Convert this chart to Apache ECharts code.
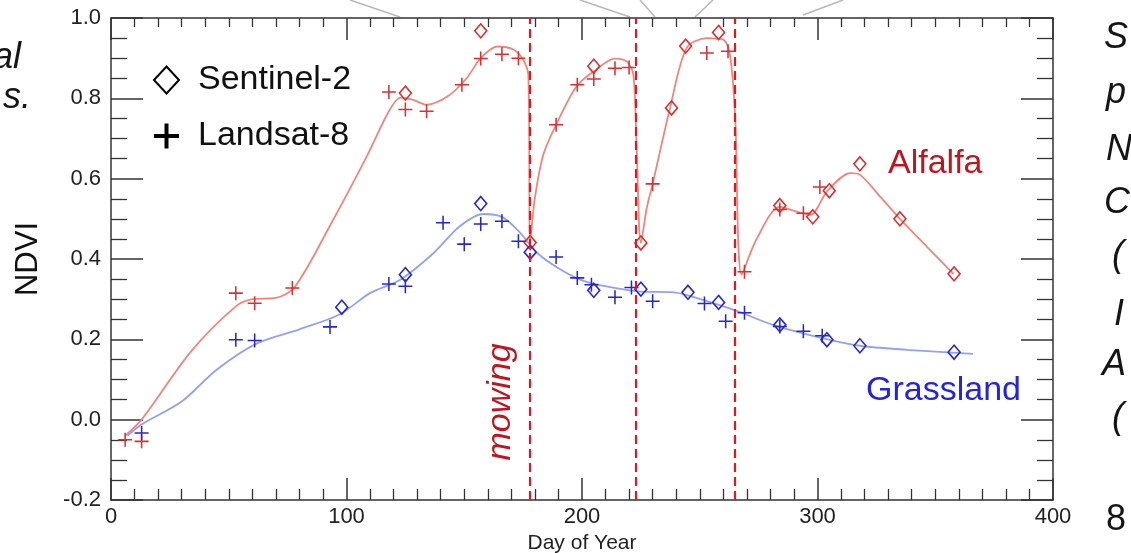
<!DOCTYPE html>
<html>
<head>
<meta charset="utf-8" />
<title>NDVI Alfalfa / Grassland</title>
<script src="https://cdn.jsdelivr.net/npm/echarts@6/dist/echarts.min.js"></script>
</head>
<body style="margin:0">
<div id="main" style="width:1131px;height:553px;"></div>
<script type="text/javascript">
// alfalfa observations
var alfalfaL8Day = [6, 13, 53, 61, 77, 118, 125, 134, 149, 157, 166, 173, 189, 198, 205, 214, 220, 230, 253, 262, 269, 284, 294, 301];
var alfalfaL8 = [-0.05, -0.054, 0.315, 0.29, 0.328, 0.816, 0.772, 0.768, 0.834, 0.899, 0.91, 0.90, 0.734, 0.834, 0.848, 0.875, 0.877, 0.587, 0.913, 0.917, 0.368, 0.523, 0.514, 0.579];
var alfalfaS2Day = [125, 157, 178, 205, 225, 238, 244, 258, 284, 298, 305, 318, 335, 358];
var alfalfaS2 = [0.813, 0.968, 0.441, 0.88, 0.44, 0.776, 0.93, 0.964, 0.533, 0.505, 0.57, 0.637, 0.50, 0.363];
// alfalfa fitted curve
var alfalfaFitDay = [6, 13, 34, 53, 60, 70, 78, 94, 109, 118, 123, 128, 134, 143, 151, 157, 164, 171, 175, 177.2, 178, 180, 183.6, 189, 197.7, 205, 214, 219, 221.8, 223.2, 225, 227.5, 230, 237.4, 244.4, 253, 260, 262.8, 265, 267.8, 274, 284, 290, 297, 304, 314, 318, 326.5, 334.7, 346.4, 357.7];
var alfalfaFit = [-0.04, 0.0, 0.17, 0.282, 0.30, 0.303, 0.33, 0.494, 0.66, 0.768, 0.802, 0.797, 0.784, 0.805, 0.85, 0.90, 0.929, 0.921, 0.896, 0.859, 0.444, 0.552, 0.66, 0.734, 0.83, 0.867, 0.899, 0.892, 0.859, 0.677, 0.44, 0.527, 0.587, 0.776, 0.925, 0.95, 0.946, 0.909, 0.759, 0.361, 0.448, 0.53, 0.52, 0.51, 0.568, 0.614, 0.61, 0.556, 0.502, 0.431, 0.363];

// grassland observations
var grassL8Day = [13, 53, 61, 93, 118, 125, 141, 150, 157, 166, 173, 189, 198, 204, 214, 221, 230, 252, 261, 269, 284, 294, 302];
var grassL8 = [-0.033, 0.199, 0.197, 0.231, 0.338, 0.332, 0.49, 0.437, 0.487, 0.494, 0.444, 0.405, 0.353, 0.336, 0.305, 0.329, 0.295, 0.289, 0.245, 0.266, 0.232, 0.22, 0.209];
var grassS2Day = [98, 125, 157, 178, 205, 225, 245, 258, 284, 304, 318, 358];
var grassS2 = [0.28, 0.361, 0.538, 0.417, 0.322, 0.325, 0.317, 0.292, 0.236, 0.199, 0.184, 0.168];
// grassland fitted curve
var grassFitDay = [7, 13, 30, 45, 62, 80, 97, 110, 123, 137, 148, 158, 166, 173, 181, 190, 200, 212, 225, 239, 253, 266, 281, 302, 318, 338, 366];
var grassFit = [-0.04, -0.012, 0.045, 0.125, 0.19, 0.225, 0.262, 0.315, 0.349, 0.415, 0.481, 0.512, 0.505, 0.47, 0.415, 0.377, 0.347, 0.33, 0.319, 0.317, 0.295, 0.27, 0.236, 0.203, 0.184, 0.174, 0.164];

var mowingDays = [178, 223, 265];
var yTickLabels = ['-0.2', '0.0', '0.2', '0.4', '0.6', '0.8', '1.0'];

function pairs(xs, ys) {
  return xs.map(function (x, i) { return [x, ys[i]]; });
}

var FONT = '"Liberation Sans", Arial, sans-serif';
var RED = '#dc2f2f';
var BLUE = '#2626d4';
var plusSmall = 'path://M4.45,0H5.55V4.45H10V5.55H5.55V10H4.45V5.55H0V4.45H4.45Z';
var plusBig = 'path://M4.2,0H5.8V4.2H10V5.8H5.8V10H4.2V5.8H0V4.2H4.2Z';
var axisCol = '#333';

var myChart = echarts.init(document.getElementById('main'));

function xAx(pos) {
  return {
    type: 'value', min: 0, max: 400, interval: 100, position: pos,
    axisLine: { onZero: false, lineStyle: { color: axisCol, width: 1.5 } },
    axisTick: { inside: true, length: 22, lineStyle: { color: axisCol, width: 1.5 } },
    minorTick: { show: true, splitNumber: 10, length: pos === 'top' ? 9 : 11, lineStyle: { color: axisCol, width: 1.3 } },
    splitLine: { show: false }, minorSplitLine: { show: false },
    axisLabel: { show: pos === 'bottom', fontSize: 22, color: '#222', fontFamily: FONT, margin: 6 },
    name: pos === 'bottom' ? 'Day of Year' : '',
    nameLocation: 'middle', nameGap: 29,
    nameTextStyle: { fontSize: 21, color: '#222', fontFamily: FONT }
  };
}
function yAx(pos) {
  return {
    type: 'value', min: -0.2, max: 1.0, interval: 0.2, position: pos,
    axisLine: { onZero: false, lineStyle: { color: axisCol, width: 1.5 } },
    axisTick: { inside: true, length: 32, lineStyle: { color: axisCol, width: 1.5 } },
    minorTick: { show: true, splitNumber: 4, length: 16, lineStyle: { color: axisCol, width: 1.3 } },
    splitLine: { show: false },
    axisLabel: {
      show: pos === 'left', fontSize: 22, color: '#222', fontFamily: FONT, margin: 10,
      formatter: function (v) { return yTickLabels[Math.round((v + 0.2) / 0.2)]; }
    },
    name: pos === 'left' ? 'NDVI' : '',
    nameLocation: 'middle', nameGap: 67, nameRotate: 90,
    nameTextStyle: { fontSize: 31, color: '#111', fontFamily: FONT }
  };
}

function slideText(t, x, y, align, italic) {
  return {
    type: 'text', x: x, y: y, z: 1,
    style: { text: t, fontSize: 36, fontStyle: italic === false ? 'normal' : 'italic', fontFamily: FONT, fill: '#151515', align: align, verticalAlign: 'middle' }
  };
}
function greyLine(x1, y1, x2, y2) {
  return { type: 'line', z: 0, shape: { x1: x1, y1: y1, x2: x2, y2: y2 }, style: { stroke: '#b8b8b8', lineWidth: 1.5 } };
}

var option = {
  animation: false,
  textStyle: { fontFamily: FONT },
  grid: { left: 111, right: 78, top: 18, bottom: 53, outerBoundsMode: 'none' },
  xAxis: [xAx('bottom'), xAx('top')],
  yAxis: [yAx('left'), yAx('right')],
  legend: {
    left: 148, top: 58, orient: 'vertical', selectedMode: false,
    itemWidth: 25, itemHeight: 27, itemGap: 22,
    textStyle: { fontSize: 34, color: '#111', fontFamily: FONT, padding: [0, 0, 0, 14] },
    data: [{ name: 'Sentinel-2', icon: 'diamond' }, { name: 'Landsat-8', icon: plusBig }]
  },
  graphic: [
    greyLine(350, 0, 400, 17), greyLine(580, 0, 630, 17), greyLine(640, 0, 655, 17),
    greyLine(713, 0, 695, 17), greyLine(843, 0, 803, 15),
    slideText('al', 21, 58, 'right'), slideText('s.', 31, 98, 'right'),
    slideText('S', 1104, 38, 'left'), slideText('p', 1106, 93, 'left'),
    slideText('N', 1106, 150, 'left'), slideText('C', 1104, 203, 'left'),
    slideText('(', 1112, 256, 'left'), slideText('I', 1114, 315, 'left'),
    slideText('A', 1102, 365, 'left'), slideText('(', 1112, 418, 'left'),
    slideText('8', 1106, 520, 'left', false),
    { type: 'text', x: 888, y: 164, z: 10, style: { text: 'Alfalfa', fontSize: 34, fontFamily: FONT, fill: '#c0141e', align: 'left', verticalAlign: 'middle' } },
    { type: 'text', x: 1021, y: 391, z: 10, style: { text: 'Grassland', fontSize: 34, fontFamily: FONT, fill: '#2323e0', align: 'right', verticalAlign: 'middle' } },
    { type: 'text', x: 501, y: 402, rotation: Math.PI / 2, z: 10, style: { text: 'mowing', fontSize: 34, fontStyle: 'italic', fontFamily: FONT, fill: '#c0141e', align: 'center', verticalAlign: 'middle' } }
  ],
  series: [
    {
      name: 'Alfalfa fit', type: 'line', data: pairs(alfalfaFitDay, alfalfaFit),
      showSymbol: false, smooth: 0.3, silent: true, z: 2,
      lineStyle: { color: '#f2857a', width: 1.8 },
      markLine: {
        silent: true, symbol: 'none', label: { show: false },
        lineStyle: { color: '#e8141e', width: 2.2, type: [9, 5] },
        data: mowingDays.map(function (d) { return { xAxis: d }; })
      }
    },
    {
      name: 'Grassland fit', type: 'line', data: pairs(grassFitDay, grassFit),
      showSymbol: false, smooth: 0.3, silent: true, z: 2,
      lineStyle: { color: '#93a2f0', width: 1.8 }
    },
    {
      name: 'Alfalfa S2', type: 'scatter', data: pairs(alfalfaS2Day, alfalfaS2), z: 3,
      symbol: 'diamond', symbolSize: [12, 14],
      itemStyle: { color: 'rgba(0,0,0,0)', borderColor: RED, borderWidth: 1.6, opacity: 1 }
    },
    {
      name: 'Alfalfa L8', type: 'scatter', data: pairs(alfalfaL8Day, alfalfaL8), z: 3,
      symbol: plusSmall, symbolSize: 14, itemStyle: { color: RED, opacity: 1 }
    },
    {
      name: 'Grassland S2', type: 'scatter', data: pairs(grassS2Day, grassS2), z: 3,
      symbol: 'diamond', symbolSize: [12, 14],
      itemStyle: { color: 'rgba(0,0,0,0)', borderColor: BLUE, borderWidth: 1.6, opacity: 1 }
    },
    {
      name: 'Grassland L8', type: 'scatter', data: pairs(grassL8Day, grassL8), z: 3,
      symbol: plusSmall, symbolSize: 14, itemStyle: { color: BLUE, opacity: 1 }
    },
    // legend entries only
    { name: 'Sentinel-2', type: 'scatter', data: [], itemStyle: { color: 'rgba(0,0,0,0)', borderColor: '#000', borderWidth: 2.5, opacity: 1 } },
    { name: 'Landsat-8', type: 'scatter', data: [], itemStyle: { color: '#000', opacity: 1 } }
  ]
};

myChart.setOption(option);
</script>
</body>
</html>
